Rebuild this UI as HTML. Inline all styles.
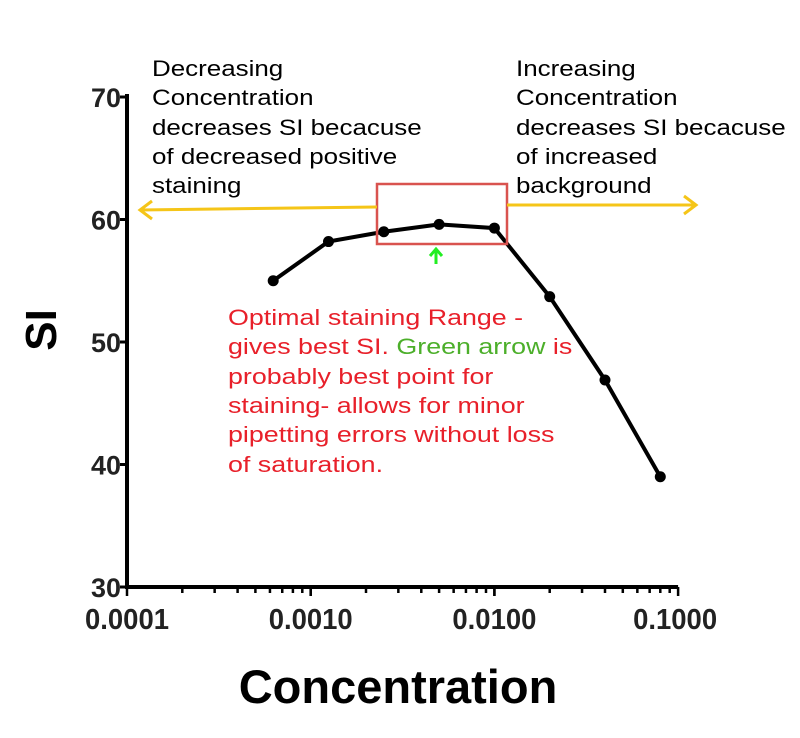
<!DOCTYPE html>
<html><head><meta charset="utf-8"><style>
body{margin:0;background:#fff;}
svg{display:block;font-family:"Liberation Sans",Arial,sans-serif;}
</style></head><body>
<svg width="800" height="738" viewBox="0 0 800 738">
<g id="axes"></g>
<g id="series"></g>
<rect x="377" y="184" width="130" height="60" fill="none" stroke="#d9534f" stroke-width="2.5"/>
<g stroke="#f5c518" stroke-width="3" fill="none">
<line x1="140" y1="210" x2="377" y2="207"/><polyline points="152,201 140,210 152,219"/></g>
<g stroke="#f5c518" stroke-width="3" fill="none">
<line x1="507" y1="205" x2="696" y2="205"/><polyline points="684,196 696,205 684,214"/></g>
<g stroke="#22ee22" stroke-width="3" fill="none">
<line x1="436" y1="264" x2="436" y2="249"/><polyline points="430,256 436,249 442,256"/></g>
<g transform="translate(152,0) scale(1.18,1)" font-size="22" fill="#000">
<text x="0" y="76">Decreasing</text><text x="0" y="105">Concentration</text><text x="0" y="135">decreases SI becacuse</text><text x="0" y="164">of decreased positive</text><text x="0" y="193">staining</text></g>
<g transform="translate(516,0) scale(1.18,1)" font-size="22" fill="#000">
<text x="0" y="76">Increasing</text><text x="0" y="105">Concentration</text><text x="0" y="135">decreases SI becacuse</text><text x="0" y="164">of increased</text><text x="0" y="193">background</text></g>
<g transform="translate(228,0) scale(1.22,1)" font-size="22" fill="#e8202a">
<text x="0" y="325">Optimal staining Range -</text>
<text x="0" y="354">gives best SI. <tspan fill="#4caf2a">Green arrow</tspan> is</text>
<text x="0" y="384">probably best point for</text><text x="0" y="413">staining- allows for minor</text>
<text x="0" y="442">pipetting errors without loss</text><text x="0" y="472">of saturation.</text></g>
<text x="398" y="703" font-size="47" font-weight="bold" text-anchor="middle">Concentration</text>
<text transform="translate(56,330) rotate(-90)" font-size="44" font-weight="bold" text-anchor="middle">SI</text>
</svg>
<script>
const concentrations=[0.000625,0.00125,0.0025,0.005,0.01,0.02,0.04,0.08];
const siValues=[55,58.2,59.0,59.6,59.3,53.7,46.9,39.0];
const yTicks=[30,40,50,60,70];
const xTicks=[0.0001,0.001,0.01,0.1];
const xTickLabels=["0.0001","0.0010","0.0100","0.1000"];
const NS="http://www.w3.org/2000/svg";
const X0=127,DEC=183.7,Y0=587,YU=12.25;
const xs=v=>X0+(Math.log10(v)+4)*DEC;
const ys=v=>Y0-(v-30)*YU;
function mk(t,a,p){const e=document.createElementNS(NS,t);for(const k in a)e.setAttribute(k,a[k]);p.appendChild(e);return e;}
const ax=document.getElementById('axes');
let e=mk('line',{x1:X0,y1:ys(70)-3,x2:X0,y2:Y0,stroke:'#000','stroke-width':4},ax);


e=mk('line',{x1:X0-2,y1:Y0,x2:xs(0.1),y2:Y0,stroke:'#000','stroke-width':4},ax);


yTicks.forEach(v=>{
 mk('line',{x1:X0-7,y1:ys(v),x2:X0,y2:ys(v),stroke:'#000','stroke-width':3},ax);
 const t=mk('text',{x:X0-6,y:ys(v)+10,'font-size':27,'font-weight':'bold','text-anchor':'end',fill:'#222',textLength:30,lengthAdjust:'spacingAndGlyphs'},ax);
 t.textContent=String(v);
 
 
});
for(let d=-4;d<-1;d++){for(let m=1;m<=10;m++){const x=xs(m*Math.pow(10,d));mk('line',{x1:x,y1:Y0,x2:x,y2:Y0+(m==1||m==10?9:6),stroke:'#000','stroke-width':2.5},ax);}}
xTicks.forEach((v,i)=>{
 const t=mk('text',{x:xs(v)+(i==3?-3:0),y:Y0+42,'font-size':29,'font-weight':'bold','text-anchor':'middle',fill:'#222',textLength:84,lengthAdjust:'spacingAndGlyphs'},ax);
 t.textContent=xTickLabels[i];
 
 
});
const sg=document.getElementById('series');
const pl=mk('polyline',{points:concentrations.map((c,i)=>xs(c)+','+ys(siValues[i])).join(' '),fill:'none',stroke:'#000','stroke-width':4},sg);


concentrations.forEach((c,i)=>{
 const p=mk('circle',{cx:xs(c),cy:ys(siValues[i]),r:5.5,fill:'#000'},sg);
 
 
});
</script>
</body></html>
